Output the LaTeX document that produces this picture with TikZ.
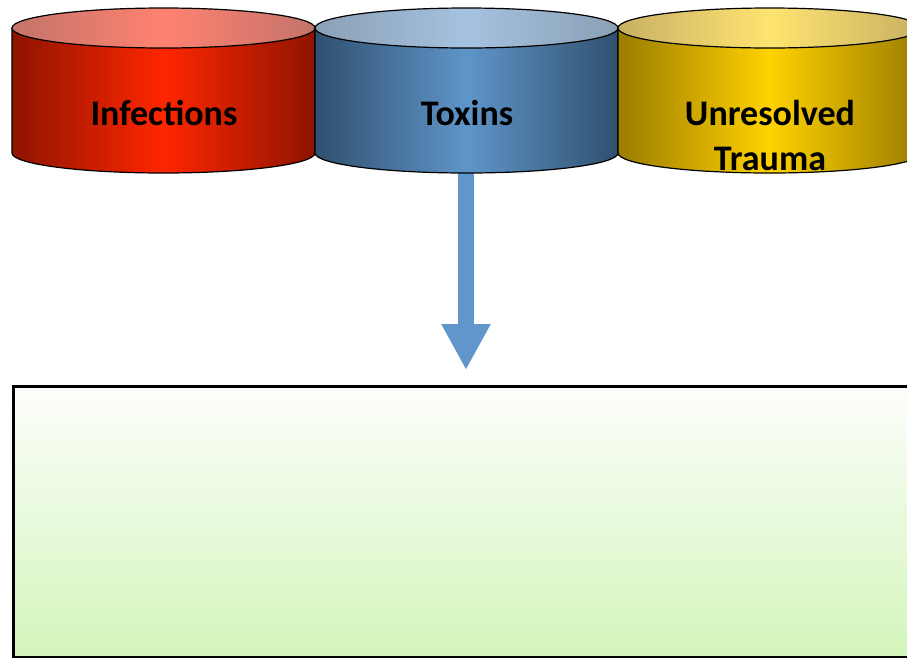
\documentclass[tikz,border=0pt]{standalone}
\usepackage{fontspec}
\setmainfont{Carlito}
\usetikzlibrary{arrows.meta}
\definecolor{redE}{HTML}{8E1400}
\definecolor{redC}{HTML}{FF2600}
\definecolor{redTE}{HTML}{C4746A}
\definecolor{redTC}{HTML}{FF8270}
\definecolor{bluE}{HTML}{30506F}
\definecolor{bluC}{HTML}{5F95C9}
\definecolor{bluTE}{HTML}{8AA0B5}
\definecolor{bluTC}{HTML}{A6C2E0}
\definecolor{yelE}{HTML}{9A7C00}
\definecolor{yelC}{HTML}{FFD200}
\definecolor{yelTE}{HTML}{C8B064}
\definecolor{yelTC}{HTML}{FFE470}
\definecolor{arrowblue}{HTML}{6096CB}
\definecolor{boxtop}{HTML}{FDFEFC}
\definecolor{boxbot}{HTML}{D3F5BA}
\tikzset{
  cylline/.style={draw=black, line width=1.2pt},
  cyllabel/.style={font=\fontsize{36}{45}\selectfont\bfseries, text=black, align=center, inner sep=0pt, anchor=base},
}
\begin{document}
\begin{tikzpicture}[x=1pt,y=-1pt]
\useasboundingbox (0,0) rectangle (907,657);
\clip (0,0) rectangle (907,657);
% arrow
\coordinate (arrowtop) at (466,172);
\coordinate (arrowend) at (466,370);
\draw[arrowblue, line width=16pt, -{Triangle[length=46pt,width=46pt]}] (arrowtop) -- (arrowend);
% Infections
\path[cylline, left color=redE, right color=redE, middle color=redC]
  (12,28) -- (12,153) arc[start angle=180, end angle=0, x radius=151.5, y radius=20] -- (315,28) -- cycle;
\path[cylline, left color=redTE, right color=redTE, middle color=redTC]
  (163.5,28) ellipse[x radius=151.5, y radius=20];
\node[cyllabel] (inf) at (164,125) {Infections};
% Toxins
\path[cylline, left color=bluE, right color=bluE, middle color=bluC]
  (315,28) -- (315,153) arc[start angle=180, end angle=0, x radius=151.5, y radius=20] -- (618,28) -- cycle;
\path[cylline, left color=bluTE, right color=bluTE, middle color=bluTC]
  (466.5,28) ellipse[x radius=151.5, y radius=20];
\node[cyllabel] (tox) at (467,125) {Toxins};
% Unresolved Trauma
\path[cylline, left color=yelE, right color=yelE, middle color=yelC]
  (618,28) -- (618,153) arc[start angle=180, end angle=0, x radius=151.5, y radius=20] -- (921,28) -- cycle;
\path[cylline, left color=yelTE, right color=yelTE, middle color=yelTC]
  (769.5,28) ellipse[x radius=151.5, y radius=20];
\node[cyllabel] (tra) at (770,170) {Unresolved\\Trauma};
% box
\node[draw=black, line width=3pt, top color=boxtop, bottom color=boxbot,
      minimum width=912pt, minimum height=271pt, anchor=north west, inner sep=0pt] (box) at (12,385) {};
\end{tikzpicture}
\end{document}
